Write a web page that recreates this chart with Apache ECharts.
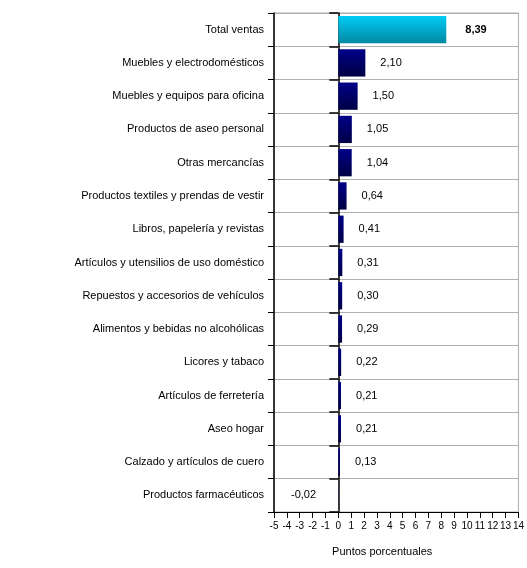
<!DOCTYPE html>
<html><head><meta charset="utf-8">
<script src="https://cdn.jsdelivr.net/npm/echarts@6/dist/echarts.min.js"></script>
<style>html,body{margin:0;padding:0;background:#fff}#c{width:527px;height:568px}</style>
</head><body><div id="c"></div>
<script>
const categories = [
  "Total ventas",
  "Muebles y electrodomésticos",
  "Muebles y equipos para oficina",
  "Productos de aseo personal",
  "Otras mercancías",
  "Productos textiles y prendas de vestir",
  "Libros, papelería y revistas",
  "Artículos y utensilios de uso doméstico",
  "Repuestos y accesorios de vehículos",
  "Alimentos y bebidas no alcohólicas",
  "Licores y tabaco",
  "Artículos de ferretería",
  "Aseo hogar",
  "Calzado y artículos de cuero",
  "Productos farmacéuticos"
];
const values = [8.39, 2.10, 1.50, 1.05, 1.04, 0.64, 0.41, 0.31, 0.30, 0.29, 0.22, 0.21, 0.21, 0.13, -0.02];
const xMin = -5, xMax = 14, xStep = 1;
const axisTitle = "Puntos porcentuales";

const font = "'Liberation Sans', Arial, sans-serif";
const navy = new echarts.graphic.LinearGradient(0,0,0,1,[{offset:0,color:'#000088'},{offset:1,color:'#000044'}]);
const cyan = new echarts.graphic.LinearGradient(0,0,0,1,[{offset:0,color:'#00ccf5'},{offset:1,color:'#0088a2'}]);
const fmt = v => v.toFixed(2).replace('.', ',');

const chart = echarts.init(document.getElementById('c'), null, {renderer:'canvas'});
chart.setOption({
  animation:false,
  backgroundColor:'#fff',
  grid:{left:274, right:7, top:13, bottom:56, containLabel:false, show:true, borderColor:'#aaaaaa', borderWidth:1},
  xAxis:{
    type:'value', min:xMin, max:xMax, interval:xStep,
    position:'bottom',
    axisLine:{show:true, onZero:false, lineStyle:{color:'#000', width:1}},
    axisTick:{show:true, length:6, lineStyle:{color:'#000'}},
    splitLine:{show:false},
    axisLabel:{fontFamily:font, fontSize:10, color:'#000', margin:9, formatter:v=>String(v)},
    name:axisTitle, nameLocation:'middle', nameGap:34,
    nameTextStyle:{fontFamily:font, fontSize:11, color:'#000', padding:[0,28,0,0]}
  },
  yAxis:[{
    type:'category', data:categories, inverse:true, position:'left',
    axisLine:{show:true, onZero:false, lineStyle:{color:'#000', width:1.5}},
    axisTick:{show:true, length:6, lineStyle:{color:'#000'}},
    splitLine:{show:true, lineStyle:{color:'#b0b0b0', width:1}},
    axisLabel:{fontFamily:font, fontSize:11, color:'#000', margin:10, padding:[3,0,0,0]}
  },{
    type:'category', data:categories, inverse:true, position:'left',
    axisLine:{show:true, onZero:true, lineStyle:{color:'#000', width:1.5}},
    axisTick:{show:true, length:9, lineStyle:{color:'#000', width:1.5}},
    splitLine:{show:false},
    axisLabel:{show:false}
  }],
  series:[{
    type:'bar', yAxisIndex:0,
    barCategoryGap:'18%',
    data: values.map((v,i)=>({
      value:v,
      itemStyle:{color: i===0 ? cyan : navy},
      label:{
        show:true,
        position: v<0 ? 'left' : 'right',
        distance: v<0 ? 22 : (i===0 ? 19 : 15),
        formatter: fmt(v),
        fontFamily:font, fontSize: 11,
        fontWeight: i===0 ? 'bold' : 'normal',
        color:'#000'
      }
    }))
  }]
});
</script></body></html>
